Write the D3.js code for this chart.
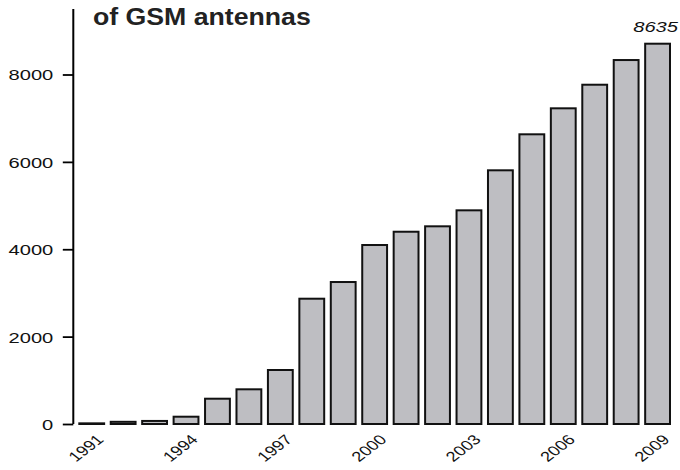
<!DOCTYPE html>
<html>
<head>
<meta charset="utf-8">
<script src="https://cdn.jsdelivr.net/npm/d3@7"></script>
<style>
  html, body { margin: 0; padding: 0; background: #fff; }
  svg { display: block; font-family: "Liberation Sans", Arial, Helvetica, sans-serif; }
</style>
</head>
<body>
<svg id="chart" width="680" height="470"></svg>
<script>
const years = ["1991","1992","1993","1994","1995","1996","1997","1998","1999","2000",
               "2001","2002","2003","2004","2005","2006","2007","2008","2009"];
const antennas = [15, 50, 70, 167, 579, 794, 1236, 2868, 3250, 4097,
                  4401, 4525, 4891, 5807, 6631, 7226, 7766, 8331, 8705];
const yTicks = [0, 2000, 4000, 6000, 8000];
const xLabelYears = ["1991","1994","1997","2000","2003","2006","2009"];
const titleText = "of GSM antennas";
const annotationText = "8635";
const annotationYear = "2009";

const svg = d3.select("#chart");
const SX = 1.3; // horizontal stretch of text in the reference

const x = d3.scaleBand().domain(years).range([79.3, 670]).paddingInner(0.21).paddingOuter(0);
const y = d3.scaleLinear().domain([0, 8000]).range([424, 74.5]);

// bars
svg.append("g").selectAll("rect").data(years.map((d, i) => ({year: d, v: antennas[i]})))
  .join("rect")
  .attr("x", d => x(d.year))
  .attr("width", x.bandwidth())
  .attr("y", d => y(d.v))
  .attr("height", d => y(0) - y(d.v))
  .attr("fill", "#bebec2")
  .attr("stroke", "#111")
  .attr("stroke-width", 2);

// y axis
const axisX = 73.3;
const gy = svg.append("g").attr("transform", `translate(${axisX},0)`)
  .call(d3.axisLeft(y).tickValues(yTicks).tickSize(10.5).tickFormat(d3.format("d")));
gy.select(".domain").remove();
gy.append("line").attr("x1", 0).attr("x2", 0)
  .attr("y1", y(0)).attr("y2", y(9500))
  .attr("stroke", "#000").attr("stroke-width", 2);
gy.selectAll(".tick line").attr("stroke", "#000").attr("stroke-width", 1.8);
gy.selectAll(".tick text")
  .attr("x", null).attr("dy", "0.35em")
  .attr("transform", `translate(-20,0) scale(${SX},1)`)
  .attr("text-anchor", "end")
  .attr("fill", "#111")
  .style("font-size", "15.5px")
  .style("font-family", "Liberation Sans, Arial, sans-serif");

// x labels (rotated 45deg, then stretched like the rest of the picture)
svg.append("g").selectAll("text").data(xLabelYears).join("text")
  .attr("transform", d => `translate(${x(d) + x.bandwidth() / 2 + 13},440.5) scale(${SX},1) rotate(-45)`)
  .attr("text-anchor", "end")
  .attr("fill", "#111")
  .style("font-size", "14px")
  .text(d => d);

// title
svg.append("text")
  .attr("transform", `translate(93,25) scale(1.16,1)`)
  .attr("fill", "#222")
  .style("font-size", "23px")
  .style("font-weight", "bold")
  .text(titleText);

// annotation above last bar
svg.append("text")
  .attr("transform", `translate(${x(annotationYear) + x.bandwidth() / 2 - 2},31.5) scale(${SX},1)`)
  .attr("text-anchor", "middle")
  .attr("fill", "#111")
  .style("font-size", "15.5px")
  .style("font-style", "italic")
  .text(annotationText);
</script>
</body>
</html>
